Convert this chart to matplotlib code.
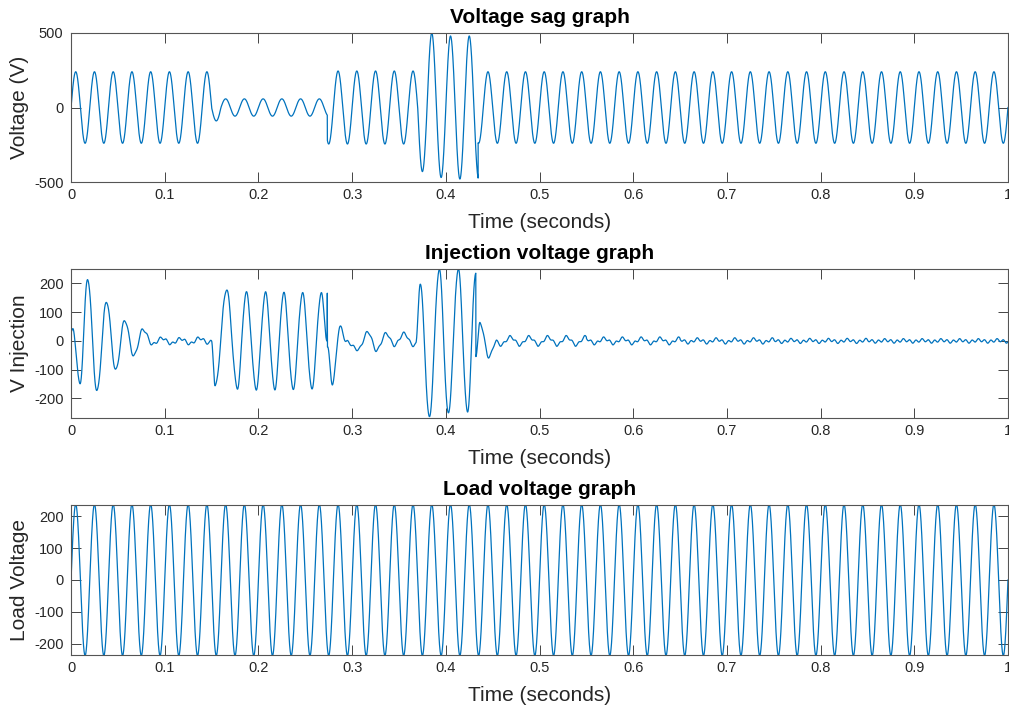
import matplotlib
matplotlib.use("Agg")
import matplotlib.pyplot as plt
import numpy as np

plt.rcParams['font.family'] = ['Liberation Sans', 'DejaVu Sans']

# --- values ---
F_GRID = 50.0          # supply frequency (Hz), one period = 0.02 s
T_END = 1.0

# Voltage sag graph: amplitude of the 50 Hz supply, piecewise by start time
SRC_EDGES = [0.0, 0.150, 0.160, 0.2735, 0.370, 0.380, 0.390, 0.400, 0.410, 0.420, 0.4345]
SRC_AMPS = [240, 90, 58, 245, 430, 500, 470, 480, 480, 480, 240]

# Injection voltage graph: extremes (time, value) of the large events
INJ_T = [0.000, 0.002, 0.0095, 0.0177, 0.0276, 0.0378, 0.0477, 0.0573, 0.0670, 0.0767,
         0.0870, 0.0970, 0.1070, 0.1170, 0.1270, 0.1370, 0.1470, 0.1500,
         0.1538, 0.1660, 0.1775, 0.1870, 0.1976, 0.2075, 0.2174, 0.2270, 0.2370,
         0.2470, 0.2570, 0.2670, 0.2734, 0.2735, 0.2737, 0.2790, 0.2870,
         0.2940, 0.3065, 0.3170, 0.3260, 0.3365, 0.3450, 0.3556, 0.3650, 0.3680,
         0.3726, 0.3824, 0.3930, 0.4026, 0.4133, 0.4231, 0.4320, 0.4321, 0.4365,
         0.4460, 0.4540]
INJ_V = [30, 38, -151, 217, -176, 138, -102, 72, -52, 40,
         -12, 10, -10, 8, -10, 10, -8, 0,
         -158, 179, -164, 169, -167, 167, -167, 167, -167,
         166, -165, 166, 0, 165, -23, -149, 49,
         -3, -30, 31, -33, 26, -15, 26, -15, -12,
         200, -267, 250, -253, 250, -248, 240, -50, 63,
         -56, 0]
# decaying 50 Hz residue after the swell, and a small 150 Hz ripple
TAIL_EDGES = [0.0, 0.454, 0.55, 0.65, 0.75, 0.85]
TAIL_AMPS = [0, 14, 9, 6, 4, 3]
TAIL_DELAY = 0.004
RIPPLE_AMP = 5
RIPPLE_F = 150.0

# Load voltage graph
LOAD_AMP = 238

X_TICKS = [0, 0.1, 0.2, 0.3, 0.4, 0.5, 0.6, 0.7, 0.8, 0.9, 1]


def step_amp(t, edges, amps):
    idx = np.searchsorted(edges, t, side='right') - 1
    return np.asarray(amps, dtype=float)[idx]


def through_extremes(t, kt, kv):
    # half-cosine shape between successive extremes
    y = np.zeros_like(t)
    for i in range(len(kt) - 1):
        t0, t1 = kt[i], kt[i + 1]
        m = (t >= t0) & (t < t1)
        s = (t[m] - t0) / (t1 - t0)
        y[m] = kv[i] + (kv[i + 1] - kv[i]) * (1 - np.cos(np.pi * s)) / 2
    y[t >= kt[-1]] = kv[-1]
    return y


t = np.arange(0, T_END + 1e-9, 2e-5)
w = 2 * np.pi * F_GRID

v_src = step_amp(t, SRC_EDGES, SRC_AMPS) * np.sin(w * t)
v_inj = (through_extremes(t, INJ_T, INJ_V)
         + step_amp(t, TAIL_EDGES, TAIL_AMPS) * np.sin(w * (t - TAIL_DELAY))
         + RIPPLE_AMP * np.sin(2 * np.pi * RIPPLE_F * t))
v_load = LOAD_AMP * np.sin(w * t)

line_col = '#0072BD'
ax_col = '#262626'

fig = plt.figure(figsize=(10.09, 7.11), dpi=100)
rects = [[0.0704, 0.744, 0.9286, 0.2096],
         [0.0704, 0.4121, 0.9286, 0.2096],
         [0.0704, 0.0788, 0.9286, 0.211]]
series = [v_src, v_inj, v_load]
titles = ['Voltage sag graph', 'Injection voltage graph', 'Load voltage graph']
ylabels = ['Voltage (V)', 'V Injection', 'Load Voltage']
ylims = [(-500, 500), (-268, 250), (-236, 236)]
yticks = [[-500, 0, 500], [-200, -100, 0, 100, 200], [-200, -100, 0, 100, 200]]

for r, y, ttl, yl, lim, yt in zip(rects, series, titles, ylabels, ylims, yticks):
    ax = fig.add_axes(r)
    ax.plot(t, y, color=line_col, linewidth=0.9)
    ax.set_xlim(0, 1)
    ax.set_ylim(*lim)
    ax.set_xticks(X_TICKS)
    ax.set_xticklabels([f'{v:g}' for v in X_TICKS])
    ax.set_yticks(yt)
    ax.set_yticklabels([f'{v:g}' for v in yt])
    ax.tick_params(direction='in', length=7, width=0.6, top=True, right=True,
                   labelsize=10.5, color=ax_col, labelcolor=ax_col)
    ax.tick_params(axis='y', pad=5.5)
    ax.tick_params(axis='x', pad=4)
    for sp in ax.spines.values():
        sp.set_color('#555555')
        sp.set_linewidth(0.8)
    ax.set_title(ttl, fontsize=15, fontweight='bold', pad=7)
    ax.set_xlabel('Time (seconds)', fontsize=15, color=ax_col)
    ax.set_ylabel(yl, fontsize=15, color=ax_col)
    ax.xaxis.set_label_coords(0.5, -0.205)
    ax.yaxis.set_label_coords(-0.045, 0.5)

fig.savefig('out.png', dpi=100)
